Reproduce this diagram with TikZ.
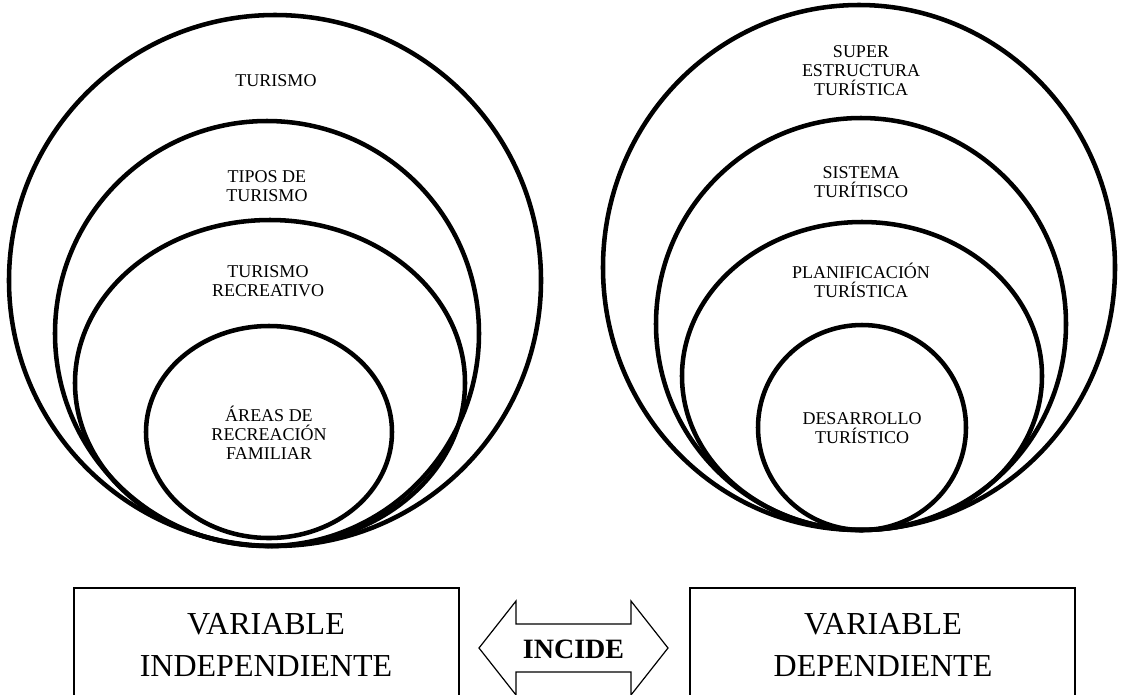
\documentclass[tikz,border=0pt]{standalone}
\usepackage{fontspec}
\setmainfont{Liberation Serif}
\begin{document}
\begin{tikzpicture}[x=0.75pt,y=-0.75pt,
  ring/.style={line width=3.4pt},
  lbl/.style={align=center, font=\fontsize{13.5}{14.25}\selectfont, inner sep=0pt},
  varbox/.style={draw, line width=1.2pt, inner sep=0pt},
  vartext/.style={align=center, font=\fontsize{24}{31.5}\selectfont, inner sep=0pt},
  arrowline/.style={line width=0.9pt, line join=miter}]
\useasboundingbox (0,0) rectangle (1122,694);
\clip (0,0) rectangle (1122,694);
% left group
\draw[ring] (275,280.5) ellipse [x radius=266, y radius=265.5];
\draw[ring] (267,333.5) ellipse [x radius=212, y radius=212.5];
\draw[ring] (270,383) ellipse [x radius=195, y radius=163];
\draw[ring] (269,432) ellipse [x radius=123, y radius=106];
\node[lbl] (l1) at (276,81) {TURISMO};
\node[lbl] (l2) at (267,186) {TIPOS DE\\TURISMO};
\node[lbl] (l3) at (268,281) {TURISMO\\RECREATIVO};
\node[lbl] (l4) at (269,433) {ÁREAS DE\\RECREACIÓN\\FAMILIAR};
% right group
\draw[ring] (859,267.5) ellipse [x radius=256, y radius=262.5];
\draw[ring] (861,324) ellipse [x radius=205, y radius=206];
\draw[ring] (862,376) ellipse [x radius=180, y radius=154];
\draw[ring] (862,427.5) ellipse [x radius=104, y radius=102.5];
\node[lbl] (r1) at (861,71) {SUPER\\ESTRUCTURA\\TURÍSTICA};
\node[lbl] (r2) at (861,182) {SISTEMA\\TURÍTISCO};
\node[lbl] (r3) at (861,280) {PLANIFICACIÓN\\TURÍSTICA};
\node[lbl] (r4) at (862,428) {DESARROLLO\\TURÍSTICO};
% bottom boxes
\node[varbox, minimum width=288.75pt, minimum height=99pt] (vi) at (266.5,654) {};
\node[vartext] (vit) at (266,645) {VARIABLE\\INDEPENDIENTE};
\node[varbox, minimum width=288.75pt, minimum height=99pt] (vd) at (882.5,654) {};
\node[vartext] (vdt) at (883,645) {VARIABLE\\DEPENDIENTE};
% double arrow
\coordinate (al) at (479,648);
\coordinate (ar) at (668,648);
\draw[arrowline] (al) -- (516,601) -- (516,624) -- (631,624) -- (631,601) -- (ar)
  -- (631,695) -- (631,672) -- (516,672) -- (516,695) -- cycle;
\node[font=\fontsize{21}{24}\selectfont\bfseries, inner sep=0pt] (inc) at (573.5,649) {INCIDE};
\end{tikzpicture}
\end{document}
